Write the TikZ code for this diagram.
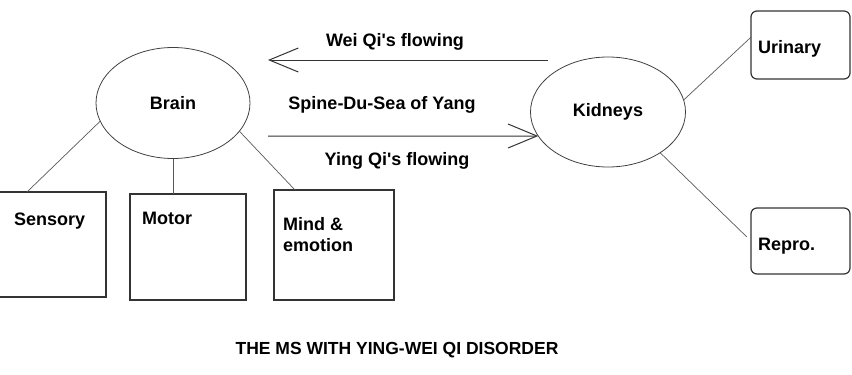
\documentclass[tikz,border=0pt]{standalone}
\usepackage{fontspec}
\setmainfont{Liberation Sans}[Ligatures=TeXOff]
\usetikzlibrary{positioning,arrows.meta,shapes.geometric}

\tikzstyle{organ}=[ellipse, draw=black!75, line width=0.8pt, inner sep=0pt, outer sep=0pt, font=\fontsize{18}{21}\selectfont\bfseries]
\tikzstyle{part}=[draw=black!80, line width=1.2pt, inner sep=0pt, outer sep=0pt]
\tikzstyle{partlabel}=[inner sep=0pt, align=left, font=\fontsize{18}{21}\selectfont\bfseries]
\tikzstyle{flowlabel}=[inner sep=0pt, font=\fontsize{18}{21}\selectfont\bfseries]
\tikzstyle{link}=[draw=black!65, line width=0.7pt]
\tikzstyle{flow}=[draw=black!80, line width=1pt, -{Straight Barb[length=29pt,width=24pt]}]

\begin{document}
\begin{tikzpicture}[x=1pt,y=-1pt]
\useasboundingbox (0,0) rectangle (852,375);

\node[organ, minimum width=154pt, minimum height=111pt] (brain) at (173,103) {Brain};
\node[organ, minimum width=155pt, minimum height=110pt] (kidneys) at (608,112) {Kidneys};

\node[part, minimum width=112pt, minimum height=105pt] (sensory) at (50,244.5) {};
\node[part, minimum width=116pt, minimum height=106pt] (motor) at (188,247) {};
\node[part, minimum width=120pt, minimum height=110pt] (mind) at (334,245) {};
\node[part, rounded corners=6pt, minimum width=99pt, minimum height=68pt] (urinary) at (800.5,45) {};
\node[part, rounded corners=6pt, minimum width=99pt, minimum height=66pt] (repro) at (800.5,241) {};

\node[partlabel, below right=21pt and 20pt of sensory.north west] (sensorytext) {Sensory};
\node[partlabel, below right=18pt and 12pt of motor.north west] (motortext) {Motor};
\node[partlabel, below right=27pt and 9pt of mind.north west] (mindtext) {Mind \&\\emotion};
\node[partlabel, below right=29pt and 7pt of urinary.north west] (urinarytext) {Urinary};
\node[partlabel, below right=30pt and 7pt of repro.north west] (reprotext) {Repro.};

\draw[link] (brain.194) -- ([xshift=-23pt]sensory.north);
\draw[link] (brain.south) -- (brain.south |- motor.north);
\draw[link] (brain.337) -- ([xshift=-39pt]mind.north);
\draw[link] (kidneys.9) -- (urinary.171);
\draw[link, shorten >=6pt] (kidneys.322) -- (repro.west);

\coordinate (weistart) at (548,60);
\coordinate (weiend) at (268,60);
\coordinate (yingstart) at (268,136);
\draw[flow] (weistart) -- (weiend);
\draw[flow] (yingstart) -- (kidneys.199);

\node[flowlabel] (weitext) at (395,42) {Wei Qi's flowing};
\node[flowlabel] (spinetext) at (382,105) {Spine-Du-Sea of Yang};
\node[flowlabel] (yingtext) at (397,161) {Ying Qi's flowing};

\node[flowlabel, font=\fontsize{17.5}{20}\selectfont\bfseries] (title) at (397,350) {THE MS WITH YING-WEI QI DISORDER};
\end{tikzpicture}
\end{document}
